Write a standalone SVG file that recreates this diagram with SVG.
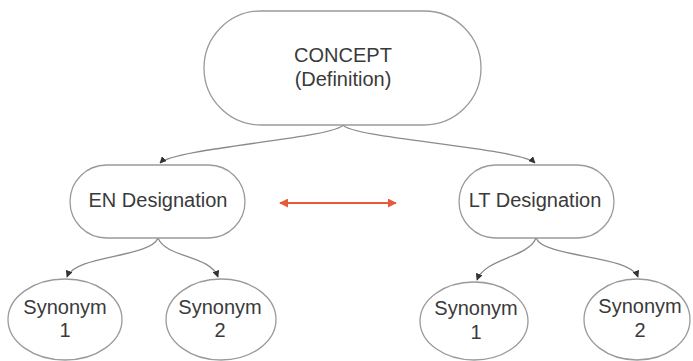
<svg xmlns="http://www.w3.org/2000/svg" width="693" height="361" viewBox="0 0 693 361">
<defs>
<style>
.node{fill:#fff;stroke:#9a9a9a;stroke-width:1.3}
.t{font-family:"Liberation Sans",Arial,sans-serif;font-size:20px;fill:#3a3a3a;text-anchor:middle}
.c{fill:none;stroke:#8a8a8a;stroke-width:1.3}
.r{fill:none;stroke:#e8593c;stroke-width:1.8}
</style>
<marker id="ah" viewBox="0 0 10 10" refX="9" refY="5" markerWidth="7" markerHeight="7" markerUnits="userSpaceOnUse" orient="auto"><path d="M0,0 L10,5 L0,10 z" fill="#333"/></marker>
<marker id="ar" viewBox="0 0 10 10" refX="9" refY="5" markerWidth="9" markerHeight="9" markerUnits="userSpaceOnUse" orient="auto-start-reverse"><path d="M0,0 L10,5 L0,10 z" fill="#e8593c"/></marker>
</defs>
<rect width="693" height="361" fill="#fff"/>
<g id="connectors">
<path class="c" d="M343,125 C335,138 175,148 160,163" marker-end="url(#ah)"/>
<path class="c" d="M343,125 C351,138 520,148 535,163" marker-end="url(#ah)"/>
<path class="c" d="M158,238 C150,258 75,255 67,277" marker-end="url(#ah)"/>
<path class="c" d="M158,238 C166,258 210,255 218,277" marker-end="url(#ah)"/>
<path class="c" d="M536,238 C528,258 485,258 477,280" marker-end="url(#ah)"/>
<path class="c" d="M536,238 C544,258 630,255 638,277" marker-end="url(#ah)"/>
<path class="r" d="M280,203 L396,203" marker-start="url(#ar)" marker-end="url(#ar)"/>
</g>
<g id="concept">
<rect class="node" x="204" y="11" width="277" height="114" rx="57" ry="57"/>
<text class="t" x="343" y="62">CONCEPT</text>
<text class="t" x="343" y="86">(Definition)</text>
</g>
<g id="en-designation">
<rect class="node" x="70" y="165" width="175" height="73" rx="36.5" ry="36.5"/>
<text class="t" x="158" y="207">EN Designation</text>
</g>
<g id="lt-designation">
<rect class="node" x="459" y="165" width="155" height="73" rx="36.5" ry="36.5"/>
<text class="t" x="535" y="207">LT Designation</text>
</g>
<g id="en-synonym-1">
<ellipse class="node" cx="65" cy="319.5" rx="57" ry="40.5"/>
<text class="t" x="65" y="314">Synonym</text>
<text class="t" x="65" y="337">1</text>
</g>
<g id="en-synonym-2">
<ellipse class="node" cx="221" cy="319.5" rx="55" ry="40.5"/>
<text class="t" x="220" y="314">Synonym</text>
<text class="t" x="220" y="337">2</text>
</g>
<g id="lt-synonym-1">
<ellipse class="node" cx="474" cy="321" rx="54" ry="39"/>
<text class="t" x="476" y="315">Synonym</text>
<text class="t" x="476" y="339">1</text>
</g>
<g id="lt-synonym-2">
<ellipse class="node" cx="637" cy="319.5" rx="53" ry="40.5"/>
<text class="t" x="640" y="313">Synonym</text>
<text class="t" x="640" y="337">2</text>
</g>
</svg>
